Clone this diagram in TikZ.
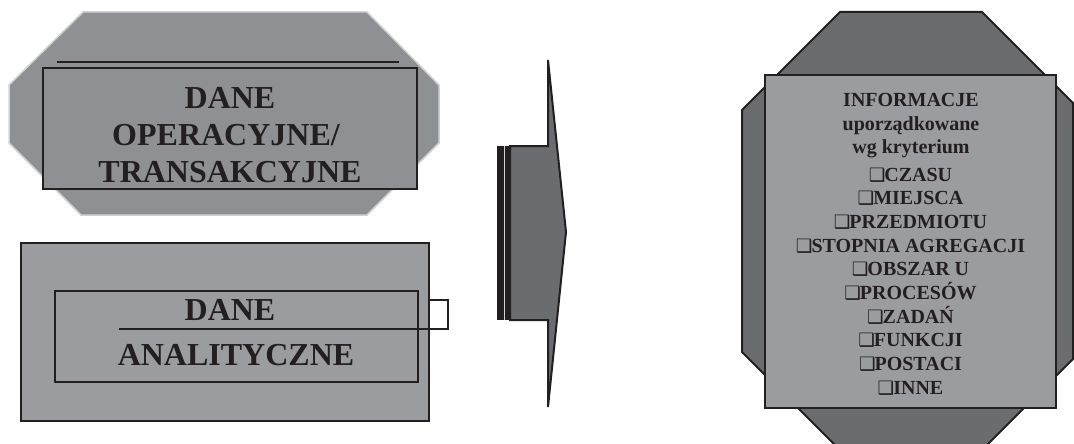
\documentclass[tikz,border=0pt]{standalone}
\usepackage{fontspec}
\setmainfont{Liberation Serif}
\newfontfamily\boxsymfont{DejaVu Sans}
\newcommand\critbox{{\boxsymfont\fontsize{18.5}{18.5}\selectfont\kern-1pt ❑\kern-1pt}}

\definecolor{ink}{HTML}{231F20}
\definecolor{midgray}{HTML}{8F9094}
\definecolor{lightfill}{HTML}{9B9CA0}
\definecolor{darkfill}{HTML}{6B6C6F}
\definecolor{rimgray}{HTML}{D1D2D4}

\tikzset{
  bigtxt/.style={font=\bfseries\fontsize{32}{37}\selectfont, text=ink, inner sep=0pt, anchor=base},
  smalltxt/.style={font=\bfseries\fontsize{20}{24}\selectfont, text=ink, inner sep=0pt, anchor=base},
  frame/.style={draw=ink, line width=2pt},
}

\begin{document}
\begin{tikzpicture}[x=1pt,y=-1pt]
\useasboundingbox (0,0) rectangle (1074,444);
\clip (0,0) rectangle (1074,444);

% operational data: octagon with framed label
\draw[fill=midgray, draw=rimgray, line width=1.5pt]
  (83,12) -- (367,12) -- (439,85) -- (439,143) -- (367,215)
  -- (81,215) -- (9,143) -- (9,85) -- cycle;
\draw[draw=ink, line width=2.5pt] (57,62) -- (399,62);
\draw[frame, fill=midgray] (43,68) rectangle (417,189);
\node[bigtxt] (op1) at (230,108) {DANE};
\node[bigtxt] (op2) at (226,145) {OPERACYJNE/};
\node[bigtxt] (op3) at (230,182) {TRANSAKCYJNE};

% analytical data: nested rectangles with tab
\draw[frame, fill=lightfill] (21,243) rectangle (429,421);
\draw[frame] (55,291) rectangle (418,382);
\draw[frame] (119,329) -- (429,329);
\draw[frame] (429,300) rectangle (448,329);
\node[bigtxt] (an1) at (230,320) {DANE};
\node[bigtxt] (an2) at (236,365) {ANALITYCZNE};

% transformation arrow
\fill[ink] (497,146) rectangle (510,320);
\draw[rimgray, line width=1pt] (504.6,146) -- (504.6,320);
\draw[draw=ink, line width=2pt, fill=darkfill, line join=miter]
  (510,146) -- (548,146) -- (548,60) -- (566,232) -- (548,407)
  -- (548,320) -- (510,320) -- cycle;

% information: octagon behind a framed list
\draw[draw=ink, line width=2pt, fill=darkfill]
  (840,12) -- (982,12) -- (1073,103) -- (1073,359) -- (982,450)
  -- (840,450) -- (742,352) -- (742,110) -- cycle;
\draw[frame, fill=lightfill] (765,75) rectangle (1056,408);

\node[smalltxt] (info1) at (911,106.7) {INFORMACJE};
\node[smalltxt] (info2) at (911,130) {uporządkowane};
\node[smalltxt] (info3) at (911,153.5) {wg kryterium};
\foreach \t [count=\i] in {CZASU,MIEJSCA,PRZEDMIOTU,STOPNIA AGREGACJI,OBSZAR U,PROCESÓW,ZADAŃ,FUNKCJI,POSTACI,INNE}
  \node[smalltxt] (crit\i) at (911,{181+(\i-1)*23.7}) {\critbox\t};
\end{tikzpicture}
\end{document}
